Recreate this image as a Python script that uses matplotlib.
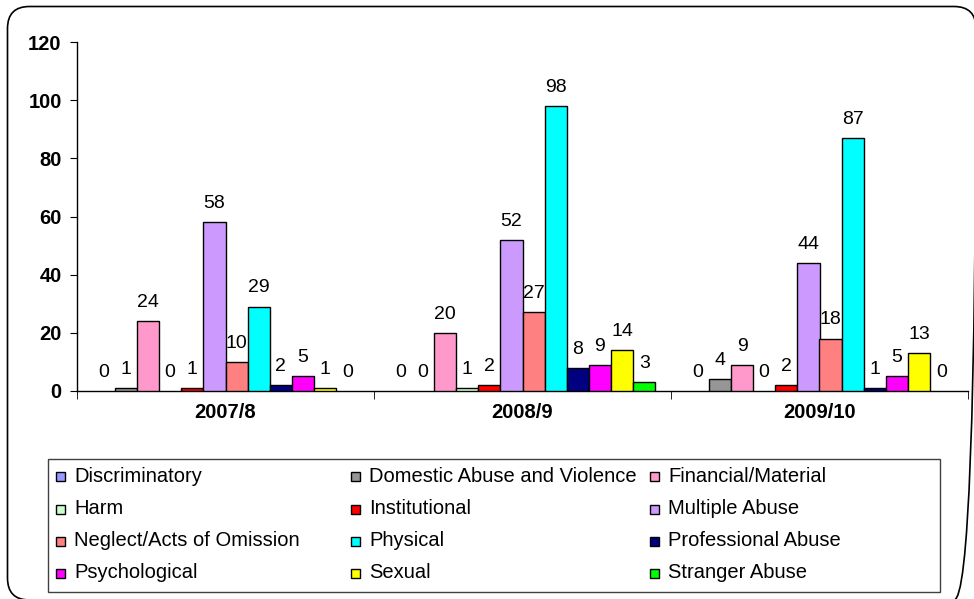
import matplotlib
matplotlib.use("Agg")
import matplotlib.pyplot as plt
import numpy as np
from matplotlib.patches import FancyBboxPatch, Rectangle

plt.rcParams['font.family'] = ['Liberation Sans', 'DejaVu Sans']

categories = ["2007/8", "2008/9", "2009/10"]
series_names = ["Discriminatory", "Domestic Abuse and Violence", "Financial/Material",
                "Harm", "Institutional", "Multiple Abuse",
                "Neglect/Acts of Omission", "Physical", "Professional Abuse",
                "Psychological", "Sexual", "Stranger Abuse"]
values = {
    "Discriminatory": [0, 0, 0],
    "Domestic Abuse and Violence": [1, 0, 4],
    "Financial/Material": [24, 20, 9],
    "Harm": [0, 1, 0],
    "Institutional": [1, 2, 2],
    "Multiple Abuse": [58, 52, 44],
    "Neglect/Acts of Omission": [10, 27, 18],
    "Physical": [29, 98, 87],
    "Professional Abuse": [2, 8, 1],
    "Psychological": [5, 9, 5],
    "Sexual": [1, 14, 13],
    "Stranger Abuse": [0, 3, 0],
}
colors = ["#9999FF", "#969696", "#FF99CC", "#CCFFCC", "#FF0000", "#CC99FF",
          "#FF8080", "#00FFFF", "#000080", "#FF00FF", "#FFFF00", "#00FF00"]
yticks = [0, 20, 40, 60, 80, 100, 120]

W, H = 974, 599
fig = plt.figure(figsize=(W / 100, H / 100), dpi=100)

# background axes in pixel coordinates for border and legend
bg = fig.add_axes([0, 0, 1, 1], zorder=-1)
bg.set_xlim(0, W)
bg.set_ylim(H, 0)
bg.axis("off")
border = FancyBboxPatch((7.5, 6.5), 976 - 7.5, 600 - 6.5,
                        boxstyle="round,pad=0,rounding_size=22",
                        fill=False, edgecolor="black", linewidth=1.2, clip_on=False)
bg.add_patch(border)

left, right, top, bottom = 77, 968, 42, 391
ax = fig.add_axes([left / W, 1 - bottom / H, (right - left) / W, (bottom - top) / H])
ax.patch.set_alpha(0)

n = len(series_names)
bw = 0.0745
start = 0.5 - n * bw / 2
x = np.arange(len(categories))
for i, name in enumerate(series_names):
    pos = x - 0.5 + start + (i + 0.5) * bw
    vals = values[name]
    lws = [1.0 if v > 0 else 0 for v in vals]
    ax.bar(pos, vals, width=bw, color=colors[i], edgecolor="black", linewidth=lws, zorder=3)
    for p, v in zip(pos, vals):
        ax.text(p, v + 3.5, str(v), ha="center", va="bottom", fontsize=14, zorder=4)

ax.set_xlim(-0.5, len(categories) - 0.5)
ax.set_ylim(0, 120)
ax.set_yticks(yticks)
ax.set_yticklabels([str(t) for t in yticks], fontsize=14.5, fontweight="bold")
ax.set_xticks(x)
ax.set_xticklabels(categories, fontsize=14.5, fontweight="bold")
ax.tick_params(axis="x", length=0, pad=9)
ax.set_xticks(np.arange(len(categories) + 1) - 0.5, minor=True)
ax.tick_params(axis="x", which="minor", length=6, direction="out")
ax.tick_params(axis="y", length=5, direction="out", pad=6)
for s in ["top", "right"]:
    ax.spines[s].set_visible(False)
ax.spines["left"].set_linewidth(1.0)
ax.spines["bottom"].set_linewidth(1.0)

# legend drawn in pixel coordinates, 3 columns x 4 rows (row-major)
bg.add_patch(Rectangle((48, 459), 940 - 48, 592 - 459, fill=False,
                       edgecolor="#404040", linewidth=1.0))
col_marker_x = [56, 351, 650]
row_y = [476, 509, 541, 573]
msize = 9
for i, name in enumerate(series_names):
    r, c = divmod(i, 3)
    mx = col_marker_x[c]
    my = row_y[r]
    bg.add_patch(Rectangle((mx, my - msize / 2), msize, msize, facecolor=colors[i],
                           edgecolor="black", linewidth=1.0))
    bg.text(mx + msize + 9, my, name, ha="left", va="center", fontsize=14.5)

fig.savefig("out.png", dpi=100)
